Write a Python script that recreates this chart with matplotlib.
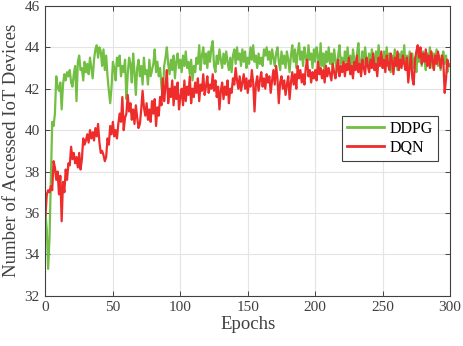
#imports
import numpy as np
import matplotlib
matplotlib.use("Agg")
import matplotlib.pyplot as plt

#fonts (Times look-alike)
plt.rcParams['font.family'] = ['Liberation Serif', 'DejaVu Serif']

#data (one value per epoch)
ddpg = [
    36.0, 35.2, 33.3, 34.8, 37.6, 40.4, 40.2, 40.8, 42.6, 42.1,
    41.9, 42.3, 41.0, 42.2, 42.7, 42.4, 42.8, 42.6, 42.9, 42.3,
    42.1, 42.7, 43.1, 41.4, 43.3, 43.6, 42.9, 43.0, 42.4, 43.3,
    42.8, 43.2, 42.7, 43.5, 43.0, 42.5, 43.4, 43.9, 44.1, 43.5,
    44.0, 43.8, 43.1, 43.9, 42.9, 43.6, 42.6, 41.9, 41.3, 42.1,
    43.3, 43.0, 42.4, 43.5, 43.1, 43.6, 42.6, 43.1, 42.8, 43.4,
    41.5, 42.7, 43.5, 43.2, 42.3, 43.7, 42.8, 41.7, 43.0, 43.4,
    42.6, 43.1, 42.2, 43.5, 42.7, 42.9, 42.2, 43.4, 42.6, 42.9,
    43.2, 43.9, 42.8, 43.3, 42.6, 43.0, 42.1, 41.6, 43.1, 43.5,
    44.0, 43.2, 42.7, 43.4, 42.9, 43.6, 42.5, 43.3, 43.7, 43.0,
    43.4, 42.8, 43.6, 43.1, 43.8, 43.0, 43.3, 42.7, 43.4, 42.4,
    43.1, 42.8, 43.5, 43.2, 44.1, 42.9, 43.6, 44.0, 43.2, 43.7,
    43.0, 43.8, 43.3, 44.0, 44.3, 43.1, 42.8, 43.6, 43.2, 43.9,
    43.4, 43.0, 43.7, 43.2, 43.8, 43.3, 42.9, 43.5, 42.8, 43.6,
    43.9, 43.2, 44.0, 43.4, 43.7, 43.1, 43.9, 43.3, 43.8, 43.0,
    43.5, 43.2, 44.0, 43.4, 44.1, 43.3, 43.6, 43.0, 43.7, 43.2,
    43.5, 43.1, 43.9, 43.6, 44.0, 43.4, 43.8, 43.2, 43.9, 43.5,
    43.1, 43.7, 44.0, 43.3, 42.9, 43.8, 43.2, 43.6, 43.0, 43.8,
    43.4, 42.8, 43.6, 44.1, 43.3, 43.9, 43.0, 43.7, 44.2, 43.4,
    43.8, 43.1, 44.0, 43.5, 43.2, 44.1, 43.4, 43.7, 43.0, 43.9,
    43.3, 44.0, 43.6, 42.9, 44.2, 43.1, 43.7, 42.7, 43.8, 43.3,
    44.0, 43.2, 43.7, 43.0, 43.9, 43.4, 42.8, 43.6, 44.1, 43.2,
    43.5, 42.9, 43.8, 43.3, 44.0, 43.1, 43.6, 42.7, 43.9, 43.4,
    43.0, 43.7, 44.2, 43.3, 42.8, 43.8, 43.2, 44.0, 43.4, 43.1,
    43.7, 43.0, 43.9, 43.5, 42.9, 43.8, 43.2, 44.1, 43.4, 43.6,
    43.0, 43.8, 43.3, 44.0, 43.1, 43.7, 42.8, 43.6, 43.2, 43.9,
    43.4, 42.9, 43.7, 43.1, 43.8, 43.3, 44.1, 43.0, 43.6, 42.9,
    43.8, 43.2, 43.7, 43.0, 43.5, 42.8, 43.9, 43.3, 43.6, 43.1,
    43.8, 43.4, 42.9, 43.7, 43.2, 44.0, 43.5, 43.0, 43.7, 43.3,
    43.9, 43.1, 43.6, 42.9, 43.5, 43.8, 43.2, 43.6, 42.8, 43.2,
]
dqn = [
    35.9, 36.9, 37.1, 37.0, 37.3, 37.1, 38.5, 38.2, 37.6, 38.0,
    36.9, 37.8, 35.6, 37.5, 37.0, 38.1, 37.6, 38.4, 38.3, 39.2,
    38.6, 38.9, 38.4, 38.7, 38.2, 38.9, 38.1, 38.6, 39.6, 39.3,
    39.5, 39.8, 39.4, 40.0, 39.6, 39.9, 39.5, 40.1, 39.7, 40.3,
    39.4, 38.9, 39.0, 38.8, 38.5, 38.7, 39.6, 39.3, 40.2, 39.8,
    40.4, 39.7, 40.0, 39.6, 40.3, 40.8, 40.4, 41.6, 40.0, 40.6,
    40.8, 41.7, 40.9, 41.3, 40.5, 41.0, 40.3, 41.2, 40.6, 40.1,
    40.3, 41.0, 41.9, 41.1, 40.7, 41.3, 40.5, 41.0, 40.4, 41.4,
    40.8, 41.5, 40.2, 41.1, 40.7, 41.6, 41.2, 42.5, 41.4, 42.1,
    42.9, 41.3, 42.0, 41.6, 42.4, 41.2, 42.1, 41.5, 42.3, 41.0,
    41.6, 42.0, 41.2, 42.4, 41.4, 42.1, 41.7, 42.6, 41.3, 42.0,
    41.6, 42.3, 41.8, 42.5, 41.4, 42.2, 41.9, 42.7, 41.7, 42.1,
    42.6, 41.8, 42.2, 42.0, 42.7, 41.9, 42.4, 41.6, 42.1, 41.0,
    41.9, 42.3, 41.5, 42.1, 41.7, 42.4, 41.3, 42.0, 41.8, 42.5,
    42.2, 43.0, 42.4, 42.0, 42.6, 41.9, 42.3, 42.7, 42.0, 42.5,
    41.8, 42.4, 42.1, 42.9, 42.3, 40.9, 42.2, 42.6, 41.9, 42.4,
    42.8, 42.1, 42.5, 42.0, 42.7, 42.3, 42.6, 41.8, 42.4, 42.9,
    42.2, 43.1, 42.5, 41.3, 42.3, 42.6, 42.0, 42.4, 41.7, 42.2,
    42.6, 41.5, 42.3, 42.8, 42.2, 42.7, 42.0, 43.1, 42.5, 42.9,
    42.3, 42.7, 42.2, 43.0, 43.4, 42.6, 42.9, 42.3, 42.8, 42.5,
    42.9, 42.4, 43.3, 42.7, 43.0, 42.5, 42.9, 42.3, 43.1, 42.6,
    43.0, 42.7, 42.4, 43.2, 42.8, 42.5, 43.0, 43.4, 42.6, 43.1,
    42.8, 43.3, 42.6, 43.2, 42.9, 43.5, 42.7, 43.1, 42.5, 43.3,
    42.9, 43.6, 42.8, 43.2, 42.6, 43.4, 43.0, 42.7, 43.5, 43.1,
    42.8, 43.4, 43.0, 43.7, 42.9, 43.2, 42.6, 43.5, 43.1, 43.8,
    43.0, 43.4, 42.8, 43.6, 43.2, 42.9, 43.7, 43.3, 42.7, 43.5,
    43.1, 43.8, 42.9, 43.4, 43.0, 43.6, 43.2, 42.9, 43.5, 42.3,
    43.0, 43.7, 42.5, 42.2, 43.4, 43.8, 44.1, 43.5, 44.0, 43.2,
    43.7, 43.3, 43.9, 43.1, 43.6, 43.0, 43.8, 43.4, 42.9, 43.6,
    43.2, 43.8, 43.4, 43.0, 43.6, 43.3, 41.8, 42.5, 43.4, 43.1,
]
epochs = np.arange(len(ddpg))

x_ticks = [0, 50, 100, 150, 200, 250, 300]
y_ticks = [32, 34, 36, 38, 40, 42, 44, 46]

#figure
fig = plt.figure(figsize=(4.64, 3.46), dpi=100)
ax = fig.add_axes([0.098, 0.145, 0.872, 0.838])

#grid below the lines
ax.grid(True, color='#e4e4e4', linewidth=0.8)
ax.set_axisbelow(True)

#plotting data
ax.plot(epochs, ddpg, color='#72bf44', linewidth=1.6, label='DDPG')
ax.plot(epochs, dqn, color='#ee2c2c', linewidth=1.6, label='DQN')

#limits and ticks
ax.set_xlim(0, 300)
ax.set_ylim(32, 46)
ax.set_xticks(x_ticks)
ax.set_yticks(y_ticks)
ax.tick_params(direction='in', top=True, right=True, length=3.5,
               width=0.7, labelsize=11, colors='#404040', pad=4)
for s in ax.spines.values():
    s.set_color('#404040')
    s.set_linewidth(0.8)

#axis labels
ax.set_xlabel('Epochs', fontsize=13.5, color='#404040', labelpad=1)
ax.set_ylabel('Number of Accessed IoT Devices', fontsize=13.5, color='#404040', labelpad=3)

#legend
leg = ax.legend(loc='upper right', bbox_to_anchor=(0.99, 0.648), fontsize=11.5,
                frameon=True, fancybox=False, edgecolor='#404040', framealpha=1,
                handlelength=2.3, handletextpad=0.4, borderpad=0.3, labelspacing=0.2)
leg.get_frame().set_linewidth(0.8)
for line in leg.get_lines():
    line.set_linewidth(2.0)

fig.savefig('out.png', dpi=100)
